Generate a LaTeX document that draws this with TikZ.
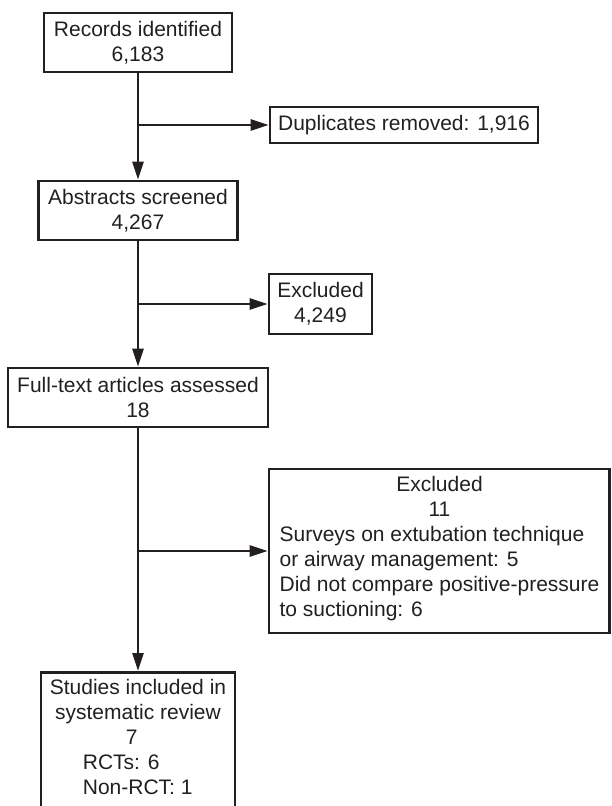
\documentclass[tikz,border=0pt]{standalone}
\usepackage{fontspec}
\setmainfont{Liberation Sans}
\usetikzlibrary{arrows.meta}
\definecolor{ink}{HTML}{231F20}
\begin{document}
\begin{tikzpicture}[x=1pt,y=-1pt,
  box/.style={draw=ink, line width=2.7pt, inner sep=0pt, align=center,
              font=\fontsize{21}{25}\selectfont, text=ink},
  plain/.style={inner sep=0pt, font=\fontsize{21}{25}\selectfont, text=ink},
  arr/.style={draw=ink, line width=2.6pt, -{Triangle[length=18pt,width=11pt]}}]
\useasboundingbox (0,0) rectangle (611,806);
\clip (0,0) rectangle (611,806);

\node[box, minimum width=188pt, minimum height=59pt] (rec) at (138,42.5) {Records identified\\6,183};
\node[box, minimum width=268pt, minimum height=36pt] (dup) at (404,125) {Duplicates removed: 1,916};
\node[box, minimum width=199pt, minimum height=59pt] (abs) at (138,210.5) {Abstracts screened\\4,267};
\node[box, minimum width=103pt, minimum height=60pt] (ex1) at (320.5,304) {Excluded\\4,249};
\node[box, minimum width=260pt, minimum height=59pt] (ft) at (138,397.5) {Full-text articles assessed\\18};
\node[box, minimum width=340.4pt, minimum height=164pt] (ex2) at (439.2,551) {};
\node[plain, anchor=north] (ex2txt) at (439.5,474) {\begin{tabular}{@{}l@{}}
\multicolumn{1}{@{}c@{}}{Excluded}\\
\multicolumn{1}{@{}c@{}}{11}\\
Surveys on extubation technique\\
or airway management: 5\\
Did not compare positive-pressure\\
to suctioning: 6
\end{tabular}};
\node[box, anchor=north, minimum width=194pt, minimum height=150pt] (stu) at (138,671) {};
\node[plain, anchor=north] (stutxt) at (138,677) {\begin{tabular}{@{}l@{}}
\multicolumn{1}{@{}c@{}}{Studies included in}\\
\multicolumn{1}{@{}c@{}}{systematic review}\\
\hspace*{76pt}7\\
\hspace*{33pt}RCTs: 6\\
\hspace*{33pt}Non-RCT: 1
\end{tabular}};

\draw[arr] (rec.south) -- (abs.north);
\draw[arr] (rec.south |- dup.west) -- (dup.west);
\draw[arr] (abs.south) -- (ft.north);
\draw[arr] (abs.south |- ex1.west) -- (ex1.west);
\draw[arr] (ft.south) -- (stu.north);
\draw[arr] (ft.south |- ex2.west) -- (ex2.west);
\end{tikzpicture}
\end{document}
